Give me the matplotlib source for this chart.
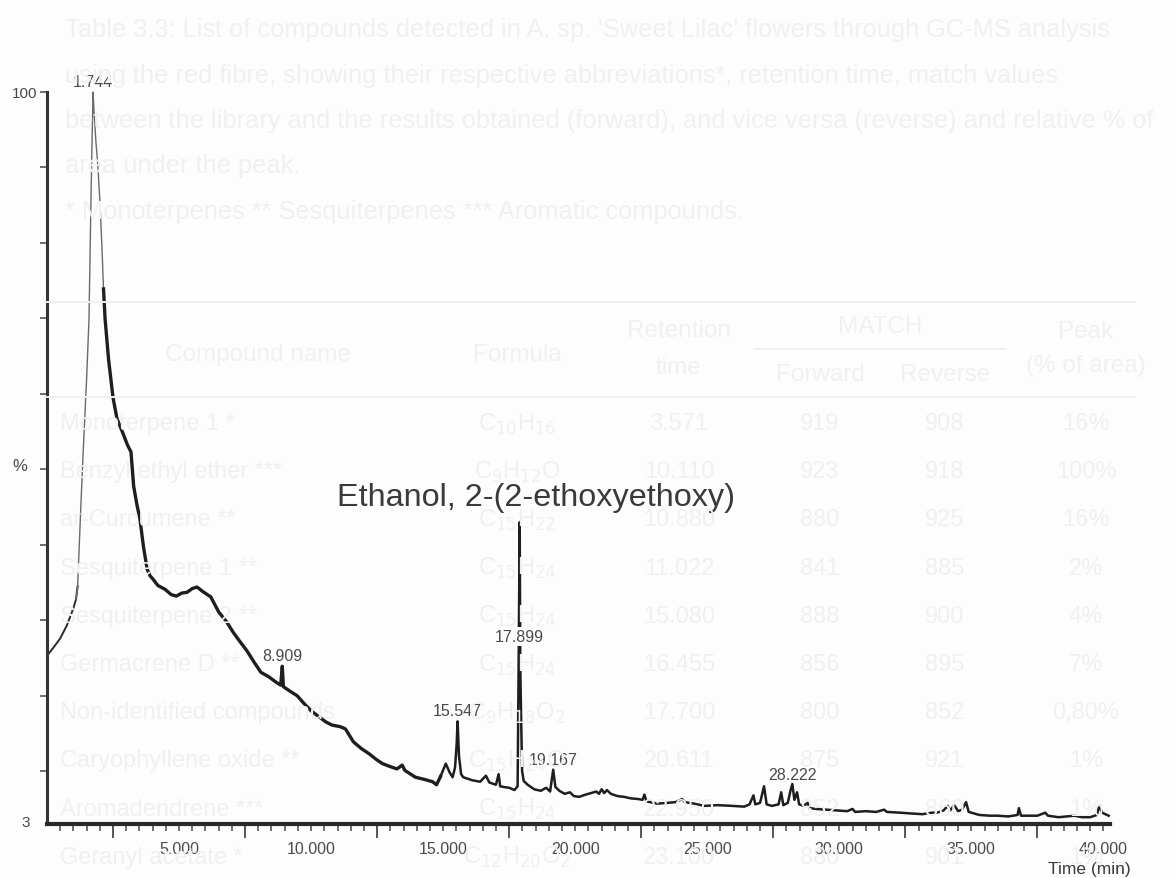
import numpy as np
import matplotlib.pyplot as plt

plt.rcParams['font.family'] = ['Liberation Sans', 'DejaVu Sans']

# total ion chromatogram, retention time (min) vs relative abundance (%)
rt = [0.00, 0.25, 0.50, 0.75, 1.00, 1.10, 1.16, 1.28, 1.38, 1.50, 1.59, 1.67, 1.72, 1.744,
      1.78, 1.85, 1.92, 2.00, 2.08, 2.14, 2.20, 2.33, 2.50, 2.65, 2.85, 3.05, 3.18, 3.28,
      3.40, 3.52, 3.65, 3.79, 3.90, 4.00, 4.20, 4.47, 4.70, 4.90, 5.10, 5.30, 5.50, 5.68,
      5.90, 6.20, 6.50, 6.80, 7.05, 7.30, 7.58, 7.85, 8.10, 8.40, 8.67, 8.85, 8.909, 8.95,
      9.20, 9.47, 9.75, 10.00, 10.30, 10.57, 10.80, 11.10, 11.30, 11.60, 11.90, 12.20,
      12.45, 12.70, 13.00, 13.25, 13.45, 13.55, 13.95, 14.30, 14.60, 14.75, 14.90, 15.10,
      15.25, 15.36, 15.45, 15.51, 15.547, 15.60, 15.68, 15.76, 16.10, 16.40, 16.62, 16.75,
      17.00, 17.10, 17.16, 17.30, 17.50, 17.70, 17.82, 17.86, 17.899, 17.92, 17.95, 17.99,
      18.05, 18.20, 18.45, 18.70, 18.90, 19.05, 19.167, 19.25, 19.40, 19.60, 19.80, 19.95,
      20.15, 20.40, 20.60, 20.80, 20.90, 21.00, 21.10, 21.20, 21.35, 21.60, 21.85, 22.10,
      22.40, 22.55, 22.62, 22.70, 23.10, 23.50, 23.80, 24.05, 24.15, 24.50, 24.90, 25.40,
      25.95, 26.40, 26.60, 26.75, 26.82, 27.00, 27.15, 27.25, 27.45, 27.70, 27.80, 27.88,
      28.05, 28.15, 28.222, 28.30, 28.40, 28.48, 28.65, 28.80, 28.88, 29.10, 29.50, 29.90,
      30.30, 30.50, 30.60, 31.00, 31.40, 31.70, 31.80, 32.30, 32.70, 33.15, 33.50, 33.70,
      33.95, 34.10, 34.20, 34.35, 34.50, 34.65, 34.80, 34.90, 35.30, 35.70, 36.00, 36.40,
      36.75, 36.80, 36.88, 37.20, 37.50, 37.80, 37.90, 38.30, 38.60, 38.90, 39.20, 39.50,
      39.75, 39.85, 39.95, 40.20]
abund = [25.3, 26.4, 27.6, 29.3, 31.6, 32.8, 34.5, 45.0, 53.1, 62.0, 69.9, 86.8, 96.0, 100.0,
         97.5, 93.5, 90.5, 85.8, 79.5, 73.9, 69.9, 64.6, 59.5, 56.7, 55.0, 53.2, 52.3, 47.8,
         45.4, 43.4, 39.8, 36.8, 35.9, 35.5, 34.6, 34.1, 33.4, 33.2, 33.6, 33.7, 34.2, 34.4,
         33.8, 33.1, 31.1, 29.8, 28.4, 27.2, 25.9, 24.4, 23.1, 22.5, 21.8, 21.4, 23.9, 21.2,
         20.6, 20.0, 18.9, 18.0, 17.2, 16.5, 16.1, 15.9, 15.6, 13.9, 13.0, 12.3,
         11.6, 11.0, 10.6, 10.3, 10.8, 10.1, 9.2, 8.9, 8.6, 8.2, 9.3, 11.0,
         9.8, 9.2, 10.5, 13.5, 16.6, 12.0, 9.6, 9.2, 8.8, 8.6, 9.4, 8.5,
         8.2, 9.6, 8.0, 7.9, 7.8, 7.5, 8.0, 25.0, 43.0, 24.0, 17.5, 10.0,
         8.7, 8.2, 7.6, 7.4, 7.8, 7.3, 10.2, 7.9, 7.4, 7.0, 7.2, 6.7,
         6.6, 6.9, 7.1, 7.3, 7.0, 7.6, 7.1, 7.5, 7.0, 6.7, 6.6, 6.4,
         6.3, 6.2, 6.9, 6.0, 5.7, 5.8, 5.9, 6.3, 5.9, 5.7, 5.4, 5.5,
         5.4, 5.3, 5.6, 6.8, 5.6, 5.8, 8.0, 5.6, 5.4, 5.6, 7.2, 5.5,
         5.8, 7.4, 8.3, 6.2, 7.2, 5.6, 5.4, 5.8, 5.1, 5.0, 4.9, 4.8,
         4.7, 5.0, 4.6, 4.7, 4.6, 4.9, 4.6, 4.5, 4.4, 4.3, 4.5, 4.5,
         4.8, 5.4, 4.8, 5.5, 4.7, 4.9, 5.9, 4.6, 4.2, 4.1, 4.1, 4.0,
         4.2, 5.1, 4.1, 4.1, 4.1, 4.5, 4.1, 3.9, 4.0, 4.1, 3.9, 3.9,
         4.2, 5.4, 4.5, 4.1]

peak_labels = ["1.744", "8.909", "15.547", "17.899", "19.167", "28.222"]
label_heights = [101.4, 25.3, 18.1, 27.8, 11.6, 9.6]
compound = "Ethanol, 2-(2-ethoxyethoxy)"

# faint page text showing through from the other side of the sheet
caption = ["Table 3.3: List of compounds detected in A. sp. 'Sweet Lilac' flowers through GC-MS analysis",
           "using the red fibre, showing their respective abbreviations*, retention time, match values",
           "between the library and the results obtained (forward), and vice versa (reverse) and relative % of",
           "area under the peak.",
           "* Monoterpenes ** Sesquiterpenes *** Aromatic compounds."]
col_names = ["Monoterpene 1 *", "Benzyl ethyl ether ***", "ar-Curcumene **", "Sesquiterpene 1 **",
             "Sesquiterpene 2 **", "Germacrene D **", "Non-identified compounds", "Caryophyllene oxide **",
             "Aromadendrene ***", "Geranyl acetate *"]
col_formula = ["C$_{10}$H$_{16}$", "C$_9$H$_{12}$O", "C$_{15}$H$_{22}$", "C$_{15}$H$_{24}$", "C$_{15}$H$_{24}$",
               "C$_{15}$H$_{24}$", "C$_9$H$_{18}$O$_2$", "C$_{15}$H$_{24}$O", "C$_{15}$H$_{24}$", "C$_{12}$H$_{20}$O$_2$"]
col_rt = ["3.571", "10.110", "10.880", "11.022", "15.080", "16.455", "17.700", "20.611", "22.950", "23.100"]
col_fwd = ["919", "923", "880", "841", "888", "856", "800", "875", "852", "880"]
col_rev = ["908", "918", "925", "885", "900", "895", "852", "921", "860", "901"]
col_peak = ["16%", "100%", "16%", "2%", "4%", "7%", "0,80%", "1%", "1%", "1%"]

W, H = 1176, 879
fig = plt.figure(figsize=(W / 100, H / 100), dpi=100, facecolor="#fdfdfd")

def fpos(x, y):
    return x / W, 1 - y / H

ghost = "#f0f0f0"
for i, line in enumerate(caption):
    fig.text(*fpos(65, 30 + 45.5 * i), line, fontsize=18.3, color=ghost, va="center", ha="left")

fig.add_artist(plt.Line2D([45 / W, 1135 / W], [1 - 303 / H] * 2, color=ghost, lw=1.4))
fig.add_artist(plt.Line2D([45 / W, 1135 / W], [1 - 398 / H] * 2, color=ghost, lw=1.4))
fig.add_artist(plt.Line2D([755 / W, 1005 / W], [1 - 350 / H] * 2, color=ghost, lw=1.4))
for txt, x, y in [("Compound name", 258, 355), ("Formula", 517, 355), ("Retention", 679, 331),
                  ("time", 679, 368), ("MATCH", 880, 327), ("Forward", 820, 375),
                  ("Reverse", 945, 375), ("Peak", 1086, 332), ("(% of area)", 1086, 366)]:
    fig.text(*fpos(x, y), txt, fontsize=17.5, color=ghost, ha="center", va="center")
for i in range(len(col_names)):
    y = 424 + 48.2 * i
    fig.text(*fpos(60, y), col_names[i], fontsize=17, color=ghost, ha="left", va="center")
    fig.text(*fpos(517, y), col_formula[i], fontsize=17, color=ghost, ha="center", va="center")
    fig.text(*fpos(679, y), col_rt[i], fontsize=17, color=ghost, ha="center", va="center")
    fig.text(*fpos(820, y), col_fwd[i], fontsize=17, color=ghost, ha="center", va="center")
    fig.text(*fpos(945, y), col_rev[i], fontsize=17, color=ghost, ha="center", va="center")
    fig.text(*fpos(1086, y), col_peak[i], fontsize=17, color=ghost, ha="center", va="center")

# chromatogram axes
ax = fig.add_axes([47 / W, 1 - 825 / H, (1110 - 47) / W, (825 - 93) / H])
ax.set_facecolor("none")
ax.set_xlim(0, 40.25)
ax.set_ylim(3, 100)

rt = np.array(rt)
abund = np.array(abund)
head = rt <= 1.16
apex = (rt >= 1.10) & (rt <= 2.20)
tail = (rt >= 2.14) & (rt <= 15.0)
late = rt >= 14.9
ax.plot(rt[head], abund[head], color="#2a2a2a", lw=1.4, clip_on=False)
ax.plot(rt[apex], abund[apex], color="#6a6a6a", lw=1.0, clip_on=False)
ax.plot(rt[tail], abund[tail], color="#1e1e1e", lw=2.4, clip_on=False)
ax.plot(rt[late], abund[late], color="#1e1e1e", lw=1.8, clip_on=False)

for lab, h in zip(peak_labels, label_heights):
    t = ax.text(float(lab), h, lab, fontsize=11.5, color="#4a4a4a", ha="center", va="center",
                clip_on=False, zorder=5)
    if lab == "17.899":
        t.set_bbox(dict(facecolor="#fdfdfd", edgecolor="none", pad=1.5))

ax.text(18.5, 46.3, compound, fontsize=23.3, color="#3a3a3a", ha="center", va="center")

for side in ["top", "right"]:
    ax.spines[side].set_visible(False)
ax.spines["left"].set_linewidth(2.2)
ax.spines["left"].set_color("#333333")
ax.spines["bottom"].set_linewidth(3.0)
ax.spines["bottom"].set_color("#2a2a2a")

ax.set_xticks(np.arange(5, 41, 5))
ax.set_xticklabels(["%.3f" % v for v in np.arange(5, 41, 5)])
ax.set_xticks(np.arange(0.5, 40.3, 0.5), minor=True)
ax.tick_params(axis="x", which="both", direction="out", length=5, width=1.2, color="#555555",
               labelsize=11.5, labelcolor="#4a4a4a", pad=7)

sec = ax.secondary_xaxis("bottom")
sec.set_xticks(np.arange(2.5, 40, 5))
sec.set_xticklabels([])
sec.tick_params(direction="out", length=10, width=1.4, color="#555555")
sec.spines["bottom"].set_visible(False)

ax.set_yticks(np.arange(10, 101, 10))
ax.set_yticklabels([""] * 9 + ["100"])
ax.tick_params(axis="y", direction="out", length=5, width=1.2, color="#555555",
               labelsize=11, labelcolor="#4a4a4a", pad=2)
ax.text(-0.019, 50.5, "%", transform=ax.get_yaxis_transform(), fontsize=12, color="#4a4a4a",
        ha="right", va="center")
ax.text(-0.016, 3.2, "3", transform=ax.get_yaxis_transform(), fontsize=11, color="#4a4a4a",
        ha="right", va="center")
fig.text(*fpos(1131, 870), "Time (min)", fontsize=12.5, color="#3a3a3a", ha="right", va="center")

fig.savefig("out.png", dpi=100, facecolor=fig.get_facecolor())
